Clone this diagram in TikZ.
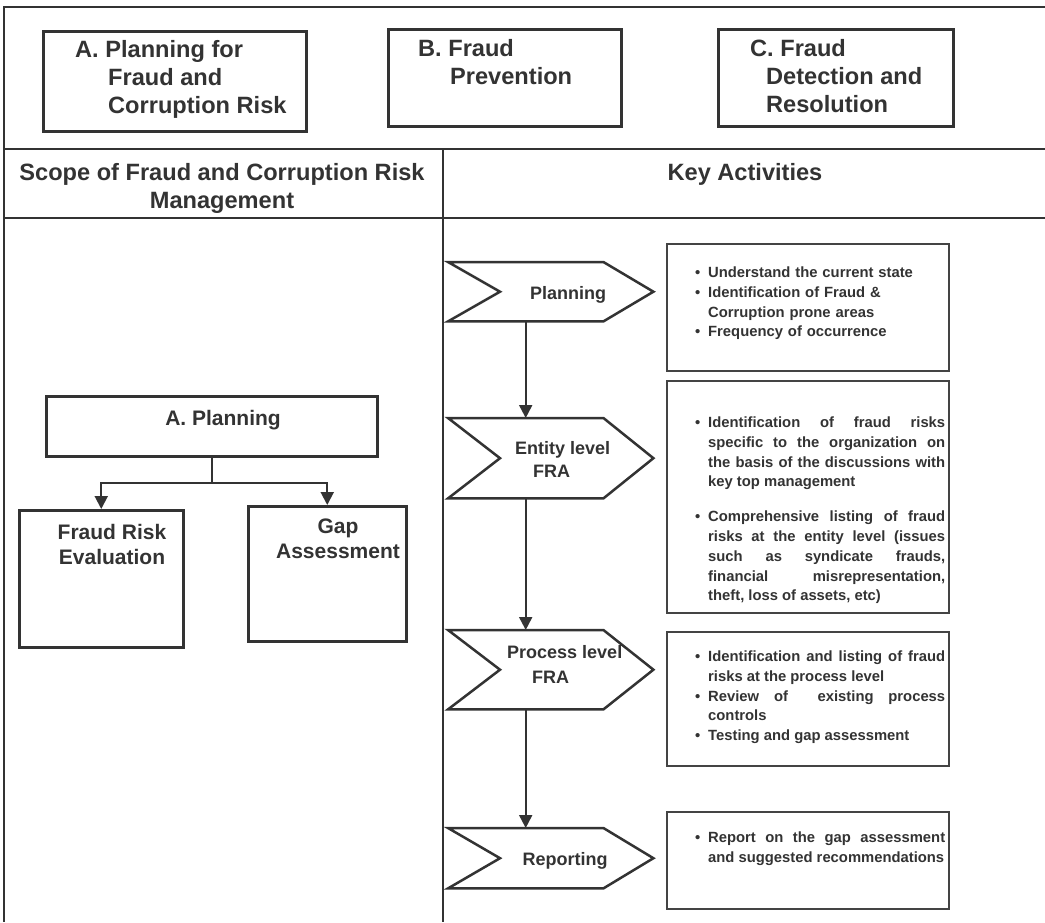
\documentclass[tikz,border=0pt]{standalone}
\usepackage{fontspec}
\setmainfont{Liberation Sans}
\usetikzlibrary{arrows.meta,calc}
\definecolor{ink}{HTML}{333333}
\definecolor{thin}{HTML}{444444}
\newcommand{\bul}{\par\noindent\llap{\textbullet\hspace{8pt}}}
\tikzset{
  frame/.style={draw=ink, line width=2.5pt},
  phasebox/.style={draw=ink, line width=3pt, inner sep=0pt, anchor=north west},
  scopebox/.style={draw=ink, line width=2.5pt, inner sep=0pt, anchor=north west},
  body/.style={inner sep=0pt, anchor=north west},
  chevline/.style={draw=ink, line width=2.5pt, line join=miter},
  actbox/.style={draw=thin, line width=1.5pt, inner sep=0pt, anchor=north west},
  conn/.style={draw=ink, line width=2pt, -{Triangle[width=13pt,length=13pt]}},
  big/.style={font=\fontsize{23.6}{28}\selectfont\bfseries, text=ink, inner sep=0pt},
  mid/.style={font=\fontsize{21}{25}\selectfont\bfseries, text=ink, inner sep=0pt},
  lbl/.style={font=\fontsize{18}{23}\selectfont\bfseries, text=ink, inner sep=0pt},
  txt/.style={font=\fontsize{14.8}{19.8}\selectfont\bfseries, text=ink, inner sep=0pt,
    anchor=north west, text width=237pt}
}
\begin{document}
\begin{tikzpicture}[x=1pt,y=-1pt]
\useasboundingbox (0,0) rectangle (1045,922);
\fill[white] (0,0) rectangle (1045,922);

% table frame
\coordinate (tl) at (4,7);
\coordinate (tr) at (1045,7);
\coordinate (bl) at (4,922);
\coordinate (h1l) at (4,149);
\coordinate (h1r) at (1045,149);
\coordinate (h2l) at (4,218);
\coordinate (h2r) at (1045,218);
\coordinate (vt) at (443,149);
\coordinate (vb) at (443,922);
\draw[frame] (tr) -- (tl) -- (bl);
\draw[frame] (h1l) -- (h1r);
\draw[frame] (h2l) -- (h2r);
\draw[frame] (vt) -- (vb);

% three phases
\node[phasebox, minimum width=263pt, minimum height=100pt] (pa) at (42,30) {};
\node[phasebox, minimum width=233pt, minimum height=97pt] (pb) at (387,28) {};
\node[phasebox, minimum width=235pt, minimum height=97pt] (pc) at (717,28) {};
\node[big, anchor=north west, align=left] (pat) at (75,40.5)
  {A. Planning for\\\hspace*{33pt}Fraud and\\\hspace*{33pt}Corruption Risk};
\node[big, anchor=north west, align=left] (pbt) at (418,39.5)
  {B. Fraud\\\hspace*{32pt}Prevention};
\node[big, anchor=north west, align=left] (pct) at (750,39.5)
  {C. Fraud\\\hspace*{16pt}Detection and\\\hspace*{16pt}Resolution};

% column headings
\node[big, anchor=north, align=center] (hs) at (222,163)
  {Scope of Fraud and Corruption Risk\\Management};
\node[big, anchor=north] (hk) at (745,163) {Key Activities};

% scope column
\node[scopebox, minimum width=331pt, minimum height=60pt] (apl) at (45,395) {};
\node[mid, anchor=base] (aplt) at (223,425) {A. Planning};
\node[scopebox, minimum width=164pt, minimum height=137pt] (fre) at (18,509) {};
\node[mid, anchor=north, align=center] (fret) at (112,524) {Fraud Risk\\Evaluation};
\node[scopebox, minimum width=158pt, minimum height=135pt] (gap) at (247,505) {};
\node[mid, anchor=north, align=center] (gapt) at (338,519) {Gap\\Assessment};
\draw[conn] (apl.south) -- ++(0,25) -| (fre.north);
\draw[conn] (apl.south) -- ++(0,25) -| (gap.north);

% activity chevrons: body rectangles, outline drawn from their anchors
\node[body, minimum width=155pt, minimum height=59pt] (cpl) at (448,262) {};
\node[body, minimum width=155pt, minimum height=80pt] (cen) at (448,418) {};
\node[body, minimum width=155pt, minimum height=79pt] (cpr) at (448,630) {};
\node[body, minimum width=155pt, minimum height=60pt] (crp) at (448,828) {};
\foreach \c in {cpl,cen,cpr,crp}{
  \draw[chevline] (\c.north west) -- (\c.north east) -- ($(\c.east)+(50,0)$)
    -- (\c.south east) -- (\c.south west) -- ($(\c.west)+(52,0)$) -- cycle;
}
\node[lbl, anchor=base] (cplt) at (568,299) {Planning};
\node[lbl, anchor=north west, align=left] (cent) at (515,441)
  {Entity level\\\hspace*{18pt}FRA};
\node[lbl, anchor=north west, align=left, font=\fontsize{18}{25}\selectfont\bfseries] (cprt) at (507,645)
  {Process level\\\hspace*{25pt}FRA};
\node[lbl, anchor=base] (crpt) at (565,865) {Reporting};
\draw[conn] (cpl.south) -- (cen.north);
\draw[conn] (cen.south) -- (cpr.north);
\draw[conn] (cpr.south) -- (crp.north);

% activity descriptions
\node[actbox, minimum width=282pt, minimum height=127pt] (d1) at (666,243) {};
\node[actbox, minimum width=282pt, minimum height=232pt] (d2) at (666,380) {};
\node[actbox, minimum width=282pt, minimum height=134pt] (d3) at (666,631) {};
\node[actbox, minimum width=282pt, minimum height=97pt] (d4) at (666,811) {};

\node[txt, align=left] (d1t) at (708,257.5) {%
  \bul Understand the current state
  \bul Identification of Fraud \&\newline Corruption prone areas
  \bul Frequency of occurrence};
\node[txt, align=justify] (d2t) at (708,407.5) {%
  \bul Identification of fraud risks\linebreak specific to the organization on\linebreak
  the basis of the discussions with\linebreak key top management\par\vspace{15pt}
  \bul Comprehensive listing of fraud\linebreak risks at the entity level (issues\linebreak
  such as syndicate frauds,\linebreak financial misrepresentation,\linebreak
  theft, loss of assets, etc)};
\node[txt, align=justify] (d3t) at (708,641.5) {%
  \bul Identification and listing of fraud\linebreak risks at the process level
  \bul Review of \ existing process\linebreak controls
  \bul Testing and gap assessment};
\node[txt, align=justify] (d4t) at (708,822.5) {%
  \bul Report on the gap assessment\linebreak and suggested recommendations};
\end{tikzpicture}
\end{document}
